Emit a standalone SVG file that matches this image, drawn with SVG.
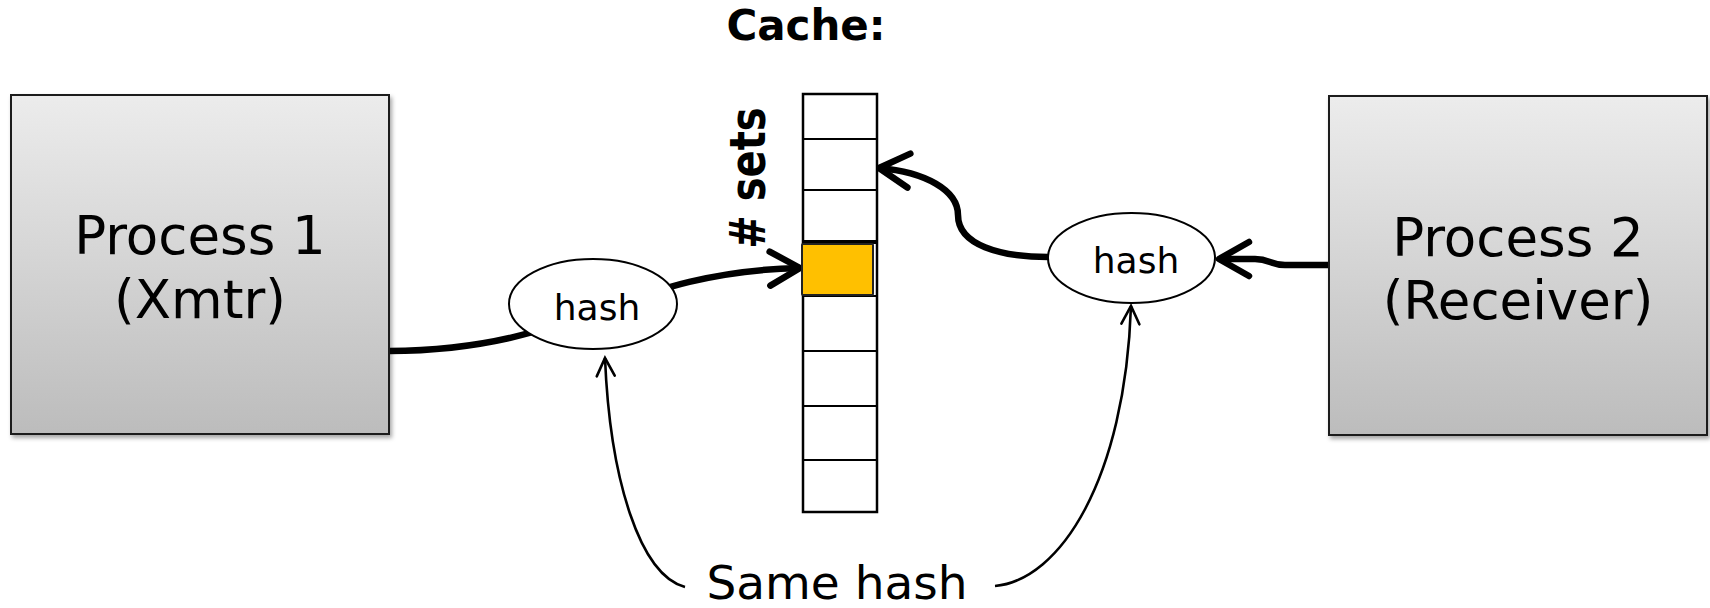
<svg xmlns="http://www.w3.org/2000/svg" width="1710" height="608" viewBox="0 0 1710 608">
  <style>
    .box { stroke: #1a1a1a; stroke-width: 2; fill: url(#gboxg); filter: url(#shadow); }
    .ptext { font-family: "DejaVu Sans", Verdana, sans-serif; font-size: 53px; fill: #000; text-anchor: middle; }
    .htext { font-family: "DejaVu Sans", Verdana, sans-serif; font-size: 36px; fill: #000; text-anchor: middle; }
    .hash { fill: #fff; stroke: #000; stroke-width: 2; }
    .thick { fill: none; stroke: #000; stroke-width: 6.5; }
    .thin { fill: none; stroke: #000; stroke-width: 2.6; }
    .cell { fill: #fff; stroke: #000; stroke-width: 2.5; }
    .row { stroke: #000; stroke-width: 2; }
    .bold { font-family: "DejaVu Sans", Verdana, sans-serif; font-weight: bold; fill: #000; }
  </style>
  <defs>
    <linearGradient id="gboxg" x1="0" y1="0" x2="0" y2="1">
      <stop offset="0" stop-color="#ececec"/>
      <stop offset="1" stop-color="#bcbcbc"/>
    </linearGradient>
    <filter id="shadow" x="-5%" y="-5%" width="115%" height="115%">
      <feDropShadow dx="2" dy="3" stdDeviation="2" flood-color="#000" flood-opacity="0.35"/>
    </filter>
    <marker id="ahThick" markerUnits="userSpaceOnUse" orient="auto" refX="0" refY="0" markerWidth="44" markerHeight="44" viewBox="-38 -22 44 44" style="overflow:visible">
      <path d="M-30,-17 L0,0 L-30,17" fill="none" stroke="#000" stroke-width="6.5" stroke-linecap="round" stroke-linejoin="round"/>
    </marker>
    <marker id="ahThin" markerUnits="userSpaceOnUse" orient="auto" refX="0" refY="0" markerWidth="26" markerHeight="26" viewBox="-22 -13 26 26" style="overflow:visible">
      <path d="M-18,-9 L0,0 L-18,9" fill="none" stroke="#000" stroke-width="2.6" stroke-linecap="round" stroke-linejoin="miter"/>
    </marker>
  </defs>

  <rect width="1710" height="608" fill="#fff"/>

  <g id="connectors">
    <path class="thick" d="M389,351 C580,350 620,272 800,268" marker-end="url(#ahThick)"/>
    <path class="thick" d="M1329,265 L1285,265 C1270,265 1270,259 1255,259 L1219,259" marker-end="url(#ahThick)"/>
    <path class="thick" d="M1048,257 C1000,257 958,245 958,215 C958,190 925,172 879,168" marker-end="url(#ahThick)"/>
    <path class="thin" d="M685,587 C640,575 610,480 605,358" marker-end="url(#ahThin)"/>
    <path class="thin" d="M995,586 C1060,580 1125,480 1131,306" marker-end="url(#ahThin)"/>
  </g>

  <g id="process1">
    <rect class="box" x="11" y="95" width="378" height="339"/>
    <text class="ptext" x="200" y="254">Process 1</text>
    <text class="ptext" x="200" y="318">(Xmtr)</text>
  </g>

  <g id="process2">
    <rect class="box" x="1329" y="96" width="378" height="339"/>
    <text class="ptext" x="1518" y="256">Process 2</text>
    <text class="ptext" x="1518" y="319">(Receiver)</text>
  </g>

  <g id="cache">
    <text class="bold" x="806" y="40" font-size="42" text-anchor="middle">Cache:</text>
    <text class="bold" font-size="40" text-anchor="middle" transform="translate(765,178) rotate(-90) scale(1,1.25)">#  sets</text>
    <rect class="cell" x="803" y="94" width="74" height="418"/>
    <line class="row" x1="804" y1="139" x2="876" y2="139"/>
    <line class="row" x1="804" y1="190" x2="876" y2="190"/>
    <line class="row" x1="804" y1="242" x2="876" y2="242" style="stroke-width:4"/>
    <line class="row" x1="804" y1="296" x2="876" y2="296"/>
    <line class="row" x1="804" y1="351" x2="876" y2="351"/>
    <line class="row" x1="804" y1="406" x2="876" y2="406"/>
    <line class="row" x1="804" y1="460" x2="876" y2="460"/>
    <rect id="hit" x="802" y="244" width="71" height="51" fill="#ffc000" stroke="#222" stroke-width="2" rx="1"/>
  </g>

  <g id="hash1">
    <ellipse class="hash" cx="593" cy="304" rx="84" ry="45"/>
    <text class="htext" x="597" y="320">hash</text>
  </g>

  <g id="hash2">
    <ellipse class="hash" cx="1131.5" cy="258" rx="83.5" ry="45"/>
    <text class="htext" x="1136" y="273">hash</text>
  </g>

  <g id="samehash">
    <text class="ptext" x="837" y="599" style="font-size:47px">Same hash</text>
  </g>
</svg>
